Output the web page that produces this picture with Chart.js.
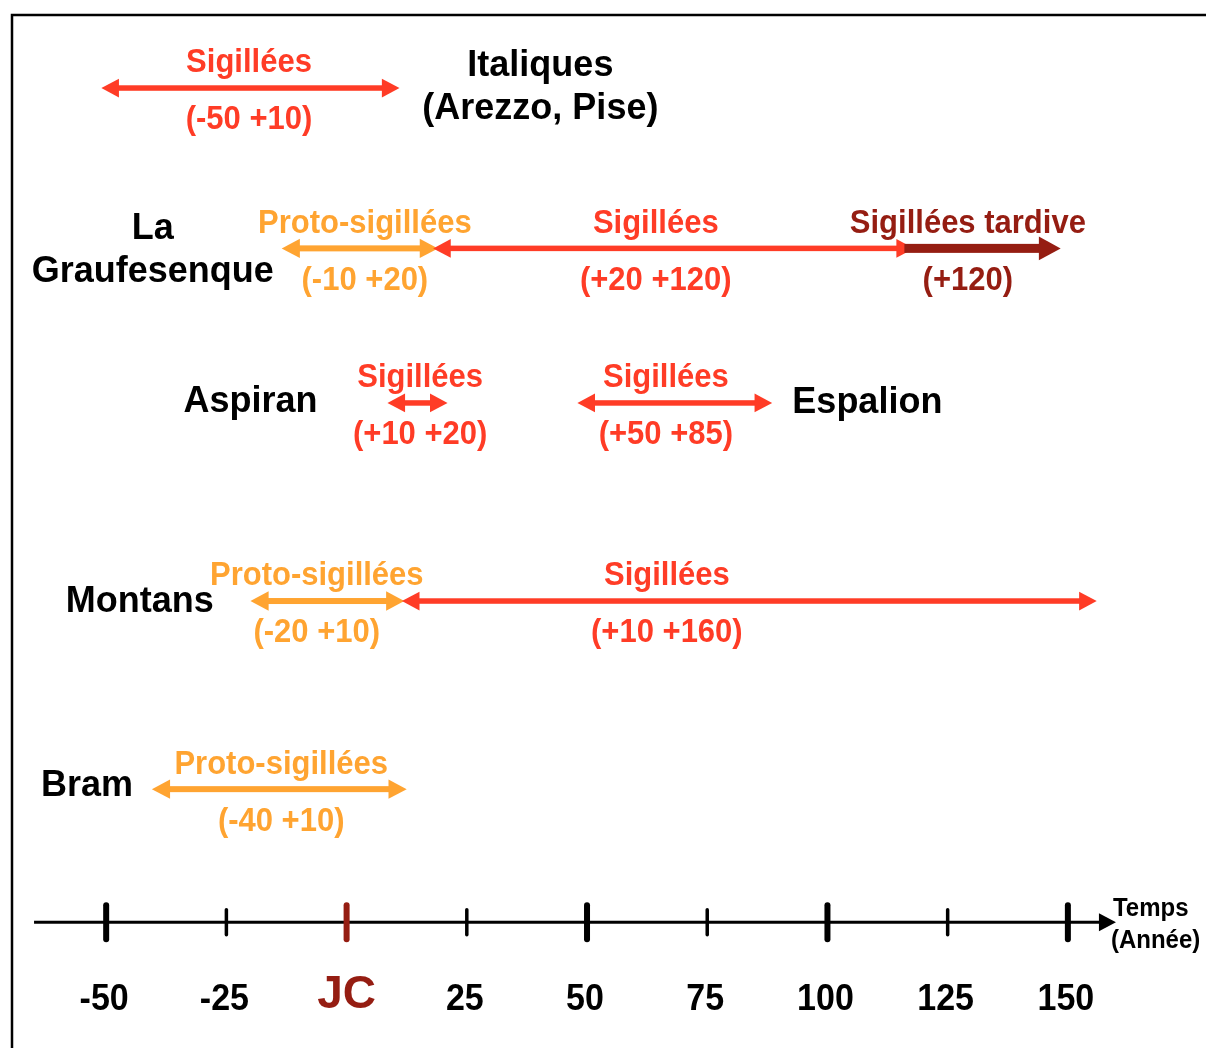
<!DOCTYPE html>
<html lang="fr">
<head>
<meta charset="utf-8">
<title>Sigillées - chronologie des ateliers</title>
<script src="https://cdn.jsdelivr.net/npm/chart.js@4.4.1/dist/chart.umd.min.js"></script>
<style>
  html, body { margin: 0; padding: 0; background: #fff; }
  canvas { display: block; }
</style>
</head>
<body>
<canvas id="chart" width="1206" height="1048"></canvas>
<script>
// Sites, one row each (Aspiran and Espalion share a row)
const siteNames = [['Italiques', '(Arezzo, Pise)'], ['La', 'Graufesenque'], ['Aspiran'], ['Espalion'], ['Montans'], ['Bram']];
const rowLevels = [0.84, 2.37, 3.845, 5.735, 7.53];
const axisLevel = 8.8;

// Productions: row, start / end year
const arrowRow   = [0, 1, 1, 1, 2, 2, 3, 3, 4];
const arrowStart = [-51, -13.5, 18, 116, 8.5, 48, -20, 11.5, -40.5];
const arrowEnd   = [11, 19, 118, 148.5, 21, 88.5, 12, 156, 12.5];
const arrowKind  = ['sig', 'proto', 'sig', 'tardive', 'sig', 'sig', 'proto', 'sig', 'proto'];
const arrowName  = ['Sigillées', 'Proto-sigillées', 'Sigillées', 'Sigillées tardive', 'Sigillées', 'Sigillées',
                    'Proto-sigillées', 'Sigillées', 'Proto-sigillées'];
const arrowRange = ['(-50 +10)', '(-10 +20)', '(+20 +120)', '(+120)', '(+10 +20)', '(+50 +85)',
                    '(-20 +10)', '(+10 +160)', '(-40 +10)'];
const arrowLabelAt = [-20.3, 3.8, 64.3, 129.2, 15.3, 66.4, -6.2, 66.6, -13.6];

// Time axis
const tickValues = [-50, -25, 0, 25, 50, 75, 100, 125, 150];
const tickLabels = ['-50', '-25', 'JC', '25', '50', '75', '100', '125', '150'];
const majorTicks = [-50, 0, 50, 100, 150];
const axisRange = [-65, 160];

// styles
const kindColor = { proto: '#ffa431', sig: '#ff3c26', tardive: '#951d12' };
const kindWidth = { proto: 6, sig: 5.5, tardive: 9 };
const FONT = '"Liberation Sans", Arial, sans-serif';
const siteAt = [[40.3, 0.83], [-40.3, 2.39], [-20, 3.83], [108.3, 3.845], [-43, 5.745], [-54, 7.5]];

function arrowHead(ctx, tipX, y, dir, len, half) {
  ctx.beginPath();
  ctx.moveTo(tipX, y);
  ctx.lineTo(tipX - dir * len, y - half);
  ctx.lineTo(tipX - dir * len, y + half);
  ctx.closePath();
  ctx.fill();
}

// text slightly stretched vertically, like the original slide
function tallText(ctx, text, x, y, sy) {
  ctx.save();
  ctx.translate(x, y);
  ctx.scale(1, sy);
  ctx.fillText(text, 0, 0);
  ctx.restore();
}

const arrowPlugin = {
  id: 'arrows',
  beforeDraw(chart) {
    const ctx = chart.ctx;
    ctx.save();
    ctx.strokeStyle = '#000';
    ctx.lineWidth = 2.5;
    ctx.strokeRect(12, 15, 1400, 1200);
    ctx.restore();
  },
  afterDatasetDraw(chart, args) {
    const ds = chart.data.datasets[args.index];
    const [a, b] = args.meta.data;
    const ctx = chart.ctx;
    const w = ds.arrowWidth;
    const len = 11 + w * 1.2;
    const half = 5.5 + w * 0.7;
    ctx.save();
    ctx.fillStyle = ds.arrowColor;
    const x0 = ds.bothHeads ? a.x + len - 1 : a.x;
    const x1 = b.x - len + 1;
    ctx.fillRect(x0, a.y - w / 2, x1 - x0, w);
    if (ds.bothHeads) arrowHead(ctx, a.x, a.y, -1, len, half);
    arrowHead(ctx, b.x, b.y, 1, len, half);
    ctx.restore();
  },
  afterDraw(chart) {
    const ctx = chart.ctx;
    const xs = chart.scales.x, ys = chart.scales.y;
    ctx.save();
    ctx.textAlign = 'center';
    ctx.textBaseline = 'middle';

    // production labels
    ctx.font = 'bold 31px ' + FONT;
    arrowName.forEach((name, i) => {
      const x = xs.getPixelForValue(arrowLabelAt[i]);
      const y = ys.getPixelForValue(rowLevels[arrowRow[i]]);
      ctx.fillStyle = kindColor[arrowKind[i]];
      tallText(ctx, name, x, y - 25, 1.1);
      tallText(ctx, arrowRange[i], x, y + 32, 1.1);
    });

    // site names
    ctx.fillStyle = '#000';
    ctx.font = 'bold 36px ' + FONT;
    siteNames.forEach((lines, i) => {
      const x = xs.getPixelForValue(siteAt[i][0]);
      const yc = ys.getPixelForValue(siteAt[i][1]);
      lines.forEach((t, k) => {
        tallText(ctx, t, x, yc + (k - (lines.length - 1) / 2) * 43, 1.05);
      });
    });

    // time axis
    const ay = ys.getPixelForValue(axisLevel);
    const ax0 = xs.getPixelForValue(axisRange[0]);
    const ax1 = xs.getPixelForValue(axisRange[1]);
    ctx.fillStyle = '#000';
    ctx.fillRect(ax0, ay - 1.5, ax1 - ax0 - 15, 3);
    arrowHead(ctx, ax1, ay, 1, 17, 9);

    ctx.lineCap = 'round';
    ctx.textBaseline = 'alphabetic';
    tickValues.forEach((v, i) => {
      const x = xs.getPixelForValue(v);
      const major = majorTicks.includes(v);
      const col = v === 0 ? '#951d12' : '#000';
      ctx.strokeStyle = col;
      ctx.lineWidth = major ? 6 : 3.5;
      const h = major ? 17 : 12.5;
      ctx.beginPath();
      ctx.moveTo(x, ay - h);
      ctx.lineTo(x, ay + h);
      ctx.stroke();
      ctx.fillStyle = col;
      if (v === 0) {
        ctx.font = 'bold 46px ' + FONT;
        tallText(ctx, tickLabels[i], x, ay + 86, 1.02);
      } else {
        ctx.font = 'bold 34px ' + FONT;
        tallText(ctx, tickLabels[i], x - 2, ay + 88, 1.1);
      }
    });

    ctx.fillStyle = '#000';
    ctx.textAlign = 'left';
    ctx.textBaseline = 'middle';
    ctx.font = 'bold 24px ' + FONT;
    tallText(ctx, 'Temps', ax1 - 3, ay - 13, 1.08);
    tallText(ctx, '(Année)', ax1 - 5, ay + 19, 1.08);
    ctx.restore();
  }
};

const datasets = arrowName.map((name, i) => ({
  label: name,
  data: [
    { x: arrowStart[i], y: rowLevels[arrowRow[i]] },
    { x: arrowEnd[i], y: rowLevels[arrowRow[i]] }
  ],
  showLine: false,
  pointRadius: 0,
  order: -i,
  arrowColor: kindColor[arrowKind[i]],
  arrowWidth: kindWidth[arrowKind[i]],
  bothHeads: arrowKind[i] !== 'tardive'
}));

new Chart(document.getElementById('chart').getContext('2d'), {
  type: 'scatter',
  data: { datasets },
  options: {
    responsive: false,
    animation: false,
    events: [],
    layout: { padding: { left: 10, right: 66, top: 0, bottom: 0 } },
    plugins: { legend: { display: false }, tooltip: { enabled: false } },
    scales: {
      x: { type: 'linear', display: false, min: -70, max: 165 },
      y: { type: 'linear', display: false, min: 0, max: 10, reverse: true }
    }
  },
  plugins: [arrowPlugin]
});
</script>
</body>
</html>
